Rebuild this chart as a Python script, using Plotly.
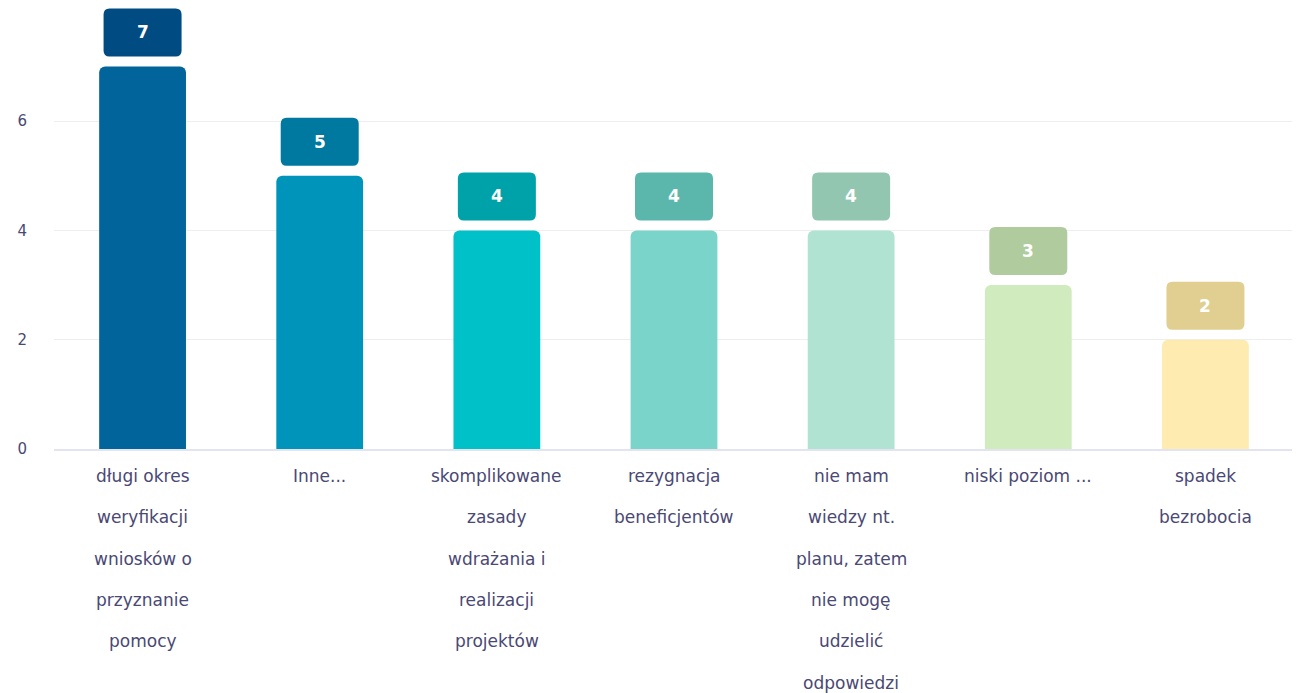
import plotly.graph_objects as go

categories = [
    "długi okres weryfikacji wniosków o przyznanie pomocy",
    "Inne...",
    "skomplikowane zasady wdrażania i realizacji projektów",
    "rezygnacja beneficjentów",
    "nie mam wiedzy nt. planu, zatem nie mogę udzielić odpowiedzi",
    "niski poziom ...",
    "spadek bezrobocia",
]
label_lines = [
    ["długi okres", "weryfikacji", "wniosków o", "przyznanie", "pomocy"],
    ["Inne..."],
    ["skomplikowane", "zasady", "wdrażania i", "realizacji", "projektów"],
    ["rezygnacja", "beneficjentów"],
    ["nie mam", "wiedzy nt.", "planu, zatem", "nie mogę", "udzielić", "odpowiedzi"],
    ["niski poziom ..."],
    ["spadek", "bezrobocia"],
]
values = [7, 5, 4, 4, 4, 3, 2]
bar_colors = ["#01649b", "#0094bb", "#00c0c8", "#7ad4c9", "#b0e3d2", "#d0ebbe", "#feebb0"]
box_colors = ["#004c82", "#0079a0", "#00a2aa", "#5bb7ab", "#92c6b0", "#b0cc9f", "#e0cf90"]
y_ticks = [0, 2, 4, 6]

x = list(range(len(categories)))
TXT = "#4a4874"
FONT = "DejaVu Sans"

fig = go.Figure()
fig.add_trace(go.Bar(
    x=x, y=values, width=0.49,
    marker=dict(color=bar_colors, cornerradius=6, line=dict(width=0)),
    hovertext=categories, hoverinfo="text+y",
))

shapes = []
annotations = []
r = 6
w2 = 39
yb, yt = 10, 58
path = (f"M {-w2+r},{yb} L {w2-r},{yb} Q {w2},{yb} {w2},{yb+r} L {w2},{yt-r} "
        f"Q {w2},{yt} {w2-r},{yt} L {-w2+r},{yt} Q {-w2},{yt} {-w2},{yt-r} "
        f"L {-w2},{yb+r} Q {-w2},{yb} {-w2+r},{yb} Z")
for i, v in enumerate(values):
    shapes.append(dict(type="path", xref="x", yref="y", xsizemode="pixel", ysizemode="pixel",
                       xanchor=i, yanchor=v, path=path, fillcolor=box_colors[i],
                       line=dict(width=0), layer="above"))
    annotations.append(dict(x=i, y=v, xref="x", yref="y", text=str(v), showarrow=False,
                            yshift=34, yanchor="middle",
                            font=dict(family=FONT, size=17, color="white", weight="bold")))
    for k, line in enumerate(label_lines[i]):
        annotations.append(dict(x=i, y=0, xref="x", yref="paper", text=line, showarrow=False,
                                yanchor="middle", yshift=-27 - 41.3 * k,
                                font=dict(family=FONT, size=17, color=TXT)))

fig.update_layout(
    width=1292, height=685,
    margin=dict(l=46, r=6, t=0, b=244),
    plot_bgcolor="white", paper_bgcolor="white",
    showlegend=False, bargap=0.5,
    shapes=shapes, annotations=annotations,
    xaxis=dict(range=[-0.5, len(categories) - 0.5], tickvals=x, showticklabels=False,
               showgrid=False, zeroline=False, showline=True, linecolor="#e4e4f0", linewidth=2),
    yaxis=dict(range=[0, 8.07], tickvals=y_ticks, showgrid=True, gridcolor="#eeeeee", gridwidth=1,
               zeroline=False, ticklabelstandoff=26,
               tickfont=dict(family=FONT, size=15, color=TXT)),
)
fig.write_html("out.html")
